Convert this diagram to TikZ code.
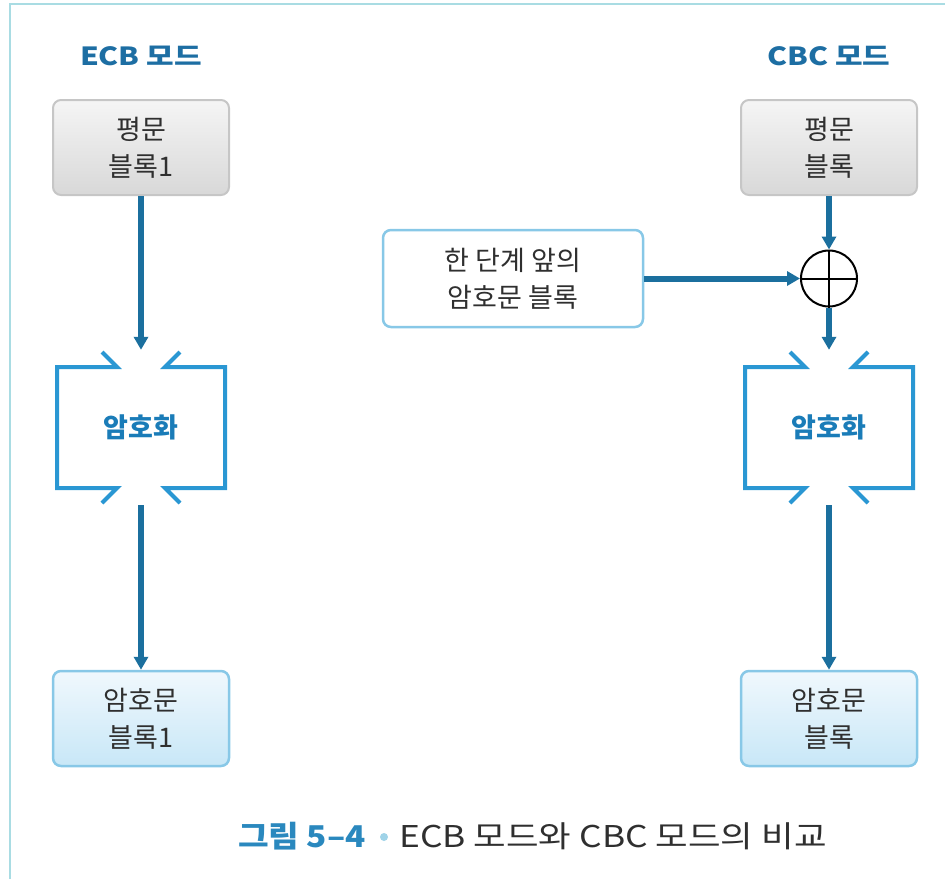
\documentclass[tikz,border=0pt]{standalone}
\usepackage{fontspec}
\setmainfont{Noto Sans CJK KR}
\newfontfamily\capfont{Noto Sans CJK KR}[FakeStretch=1.18]
\newfontfamily\capbfont{Noto Sans CJK KR}[FakeStretch=1.11]
\newfontfamily\ttlfont{Noto Sans CJK KR}[FakeStretch=1.2]
\usetikzlibrary{arrows.meta}
\definecolor{arrowblue}{HTML}{1B6F9E}
\definecolor{brk}{HTML}{2A97D3}
\definecolor{titleblue}{HTML}{1D6EA3}
\definecolor{encblue}{HTML}{1A7CB8}
\definecolor{txt}{HTML}{2F2F2F}
\definecolor{framec}{HTML}{A9DCE3}
\definecolor{graybd}{HTML}{C6C6C6}
\definecolor{gtop}{HTML}{F5F5F5}
\definecolor{gbot}{HTML}{D8D8D8}
\definecolor{bluebd}{HTML}{88C8E7}
\definecolor{btop}{HTML}{F0F8FD}
\definecolor{bbot}{HTML}{C8E7F7}
\definecolor{capblue}{HTML}{2A88BE}
\definecolor{bulletc}{HTML}{9FD3E8}
\newcommand\bxfont{\fontsize{27}{37}\selectfont}
\begin{document}
\begin{tikzpicture}[x=1pt,y=-1pt,
  plainbox/.style={draw=graybd, line width=2pt, rounded corners=8pt, top color=gtop, bottom color=gbot,
    minimum width=176pt, minimum height=95pt, inner sep=0pt, align=center, font=\bxfont, text=txt},
  cipherbox/.style={draw=bluebd, line width=2.5pt, rounded corners=8pt, top color=btop, bottom color=bbot,
    minimum width=176pt, minimum height=95pt, inner sep=0pt, align=center, font=\bxfont, text=txt},
  prevbox/.style={draw=bluebd, line width=2.5pt, rounded corners=8pt, fill=white,
    minimum width=260pt, minimum height=97pt, inner sep=0pt, align=center, font=\bxfont, text=txt},
  encnode/.style={minimum width=168pt, minimum height=155pt, inner sep=0pt,
    font=\fontsize{27}{30}\selectfont\bfseries, text=encblue},
  titlenode/.style={font=\ttlfont\fontsize{25}{28}\selectfont\bfseries, text=titleblue, anchor=base},
  arr/.style={draw=arrowblue, line width=6pt, -{Triangle[length=13pt,width=14pt]}},
  brkline/.style={draw=brk, line width=4pt},
  xornode/.style={circle, draw=black, line width=2pt, minimum size=56pt, inner sep=0pt}
]
\useasboundingbox (0,0) rectangle (945,879);
\draw[framec, line width=2pt] (10,879) -- (10,4) -- (945,4);

% titles
\node[titlenode] (t1) at (141,65) {ECB 모드};
\node[titlenode] (t2) at (829,65) {CBC 모드};

% ECB column
\node[plainbox] (p1) at (141,147.5) {평문\\블록1};
\node[encnode] (enc1) at (141,427.5) {암호화};
\node[cipherbox] (c1) at (141,718.5) {암호문\\블록1};

% CBC column
\node[plainbox] (p2) at (829,147.5) {평문\\블록};
\node[prevbox] (prev) at (513,278.5) {한 단계 앞의\\암호문 블록};
\node[xornode] (xor) at (829,278.5) {};
\node[encnode] (enc2) at (829,427.5) {암호화};
\node[cipherbox] (c2) at (829,718.5) {암호문\\블록};

% brackets
\foreach \e in {enc1,enc2}{
  \draw[brkline] ([shift={(-39,-75.5)}]\e.center) -- ([shift={(-24,-60.5)}]\e.center)
    -- ([shift={(-84,-60.5)}]\e.center) -- ([shift={(-84,60.5)}]\e.center)
    -- ([shift={(-24,60.5)}]\e.center) -- ([shift={(-39,75.5)}]\e.center);
  \draw[brkline] ([shift={(39,-75.5)}]\e.center) -- ([shift={(24,-60.5)}]\e.center)
    -- ([shift={(84,-60.5)}]\e.center) -- ([shift={(84,60.5)}]\e.center)
    -- ([shift={(24,60.5)}]\e.center) -- ([shift={(39,75.5)}]\e.center);
}

% xor cross
\draw[black, line width=2pt] (xor.north) -- (xor.south);
\draw[black, line width=2pt] (xor.west) -- (xor.east);

% arrows
\draw[arr] (p1) -- (enc1);
\draw[arr] (enc1) -- (c1);
\draw[arr] (p2) -- (xor);
\draw[arr] (prev) -- (xor);
\draw[arr] (xor) -- (enc2);
\draw[arr] (enc2) -- (c2);

% caption
\node[anchor=base east, inner sep=0pt, font=\capbfont\fontsize{30}{32}\selectfont\bfseries, text=capblue] (cap1) at (366,847) {그림 5–4};
\node[circle, fill=bulletc, minimum size=8pt, inner sep=0pt] (dot) at (384,837) {};
\node[anchor=base west, inner sep=0pt, font=\capfont\fontsize{30}{32}\selectfont, text=txt] (cap2) at (399,847) {ECB 모드와 CBC 모드의 비교};
\end{tikzpicture}
\end{document}
